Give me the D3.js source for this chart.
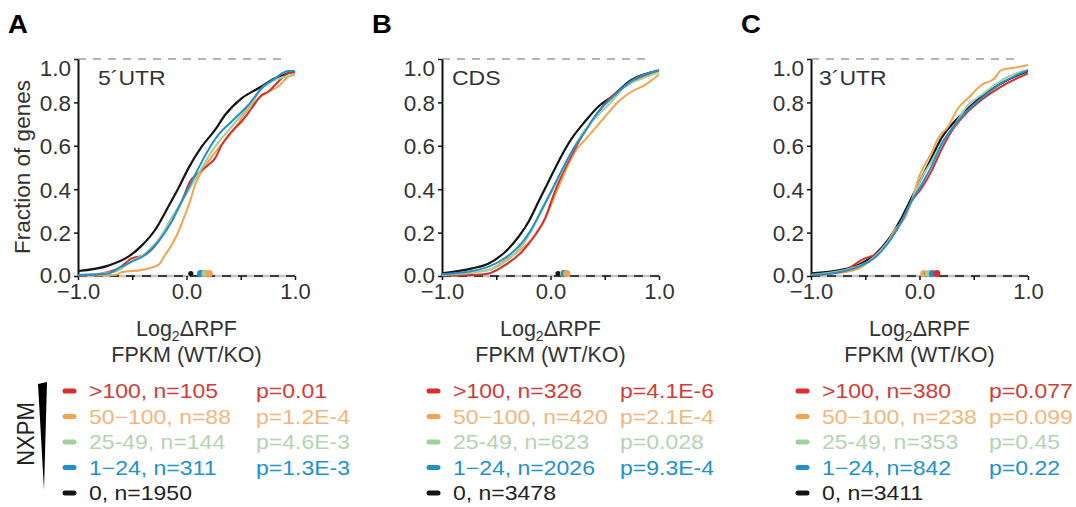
<!DOCTYPE html>
<html>
<head>
<meta charset="utf-8">
<script src="https://cdn.jsdelivr.net/npm/d3@7"></script>
<style>
body { margin: 0; background: #fff; }
text { font-family: "Liberation Sans", Arial, sans-serif; }
</style>
</head>
<body>
<svg id="chart" width="1076" height="507"></svg>
<script>
// ---------------------------------------------------------------
// Data (CDF of Log2 dRPF, per NXPM group)
// series order everywhere: >100, 50-100, 25-49, 1-24, 0
var panelLetters = ["A", "B", "C"];
var regions = ["5\u00B4UTR", "CDS", "3\u00B4UTR"];
var groups = [">100", "50\u2212100", "25-49", "1\u221224", "0"];
var yTicks = [0, 0.2, 0.4, 0.6, 0.8, 1.0];
var xTicks = [-1, -0.5, 0, 0.5, 1];
var xTickLabels = ["\u22121.0", "", "0.0", "", "1.0"];

var nA = [105, 88, 144, 311, 1950];
var nB = [326, 420, 623, 2026, 3478];
var nC = [380, 238, 353, 842, 3411];

var pA = ["p=0.01", "p=1.2E-4", "p=4.6E-3", "p=1.3E-3"];
var pB = ["p=4.1E-6", "p=2.1E-4", "p=0.028", "p=9.3E-4"];
var pC = ["p=0.077", "p=0.099", "p=0.45", "p=0.22"];

// medians (dots on the x axis)
var medA = [0.17, 0.21, 0.17, 0.13, 0.04];
var medB = [0.13, 0.15, 0.12, 0.13, 0.07];
var medC = [0.16, 0.04, 0.08, 0.12, 0.07];

// panel A - 5'UTR
var redA = [[-1,0.002],[-0.782,0.012],[-0.628,0.035],[-0.505,0.081],[-0.382,0.097],[-0.26,0.158],[-0.137,0.266],[-0.045,0.343],[0.032,0.435],[0.109,0.473],[0.201,0.512],[0.263,0.542],[0.324,0.604],[0.416,0.665],[0.508,0.712],[0.601,0.773],[0.693,0.834],[0.754,0.849],[0.816,0.88],[0.939,0.934],[1,0.939]];
var orangeA = [[-1,0.002],[-0.659,0.005],[-0.598,0.017],[-0.413,0.028],[-0.26,0.051],[-0.198,0.097],[-0.137,0.143],[-0.075,0.204],[-0.014,0.281],[0.032,0.343],[0.078,0.419],[0.14,0.481],[0.201,0.527],[0.293,0.588],[0.386,0.642],[0.478,0.704],[0.539,0.75],[0.631,0.803],[0.754,0.849],[0.846,0.873],[0.939,0.919],[1,0.929]];
var greenA = [[-1,0.005],[-0.659,0.02],[-0.505,0.069],[-0.382,0.104],[-0.26,0.166],[-0.137,0.266],[-0.045,0.343],[0.048,0.419],[0.14,0.496],[0.232,0.573],[0.324,0.634],[0.416,0.688],[0.508,0.742],[0.601,0.796],[0.693,0.865],[0.816,0.903],[1,0.926]];
var blueA = [[-1,0.005],[-0.72,0.012],[-0.628,0.035],[-0.505,0.066],[-0.382,0.097],[-0.26,0.158],[-0.137,0.25],[-0.045,0.343],[0.048,0.435],[0.109,0.496],[0.201,0.581],[0.293,0.65],[0.416,0.712],[0.57,0.788],[0.693,0.865],[0.816,0.911],[0.939,0.945],[1,0.945]];
var blackA = [[-1,0.023],[-0.72,0.048],[-0.536,0.089],[-0.413,0.14],[-0.29,0.212],[-0.167,0.32],[-0.075,0.404],[0.017,0.496],[0.14,0.596],[0.263,0.673],[0.355,0.742],[0.508,0.819],[0.662,0.865],[0.816,0.911],[1,0.945]];

// panel B - CDS
var redB = [[-1,0.002],[-0.722,0.005],[-0.569,0.012],[-0.416,0.051],[-0.263,0.112],[-0.141,0.189],[-0.049,0.266],[0.028,0.373],[0.104,0.465],[0.196,0.558],[0.287,0.642],[0.41,0.734],[0.532,0.811],[0.685,0.873],[0.869,0.923],[1,0.945]];
var orangeB = [[-1,0.005],[-0.569,0.028],[-0.416,0.074],[-0.263,0.127],[-0.141,0.189],[-0.049,0.266],[0.043,0.373],[0.135,0.481],[0.226,0.573],[0.318,0.627],[0.41,0.68],[0.502,0.734],[0.624,0.803],[0.746,0.849],[0.869,0.88],[1,0.929]];
var greenB = [[-1,0.005],[-0.569,0.028],[-0.416,0.066],[-0.294,0.12],[-0.171,0.212],[-0.08,0.312],[0.012,0.389],[0.104,0.481],[0.196,0.573],[0.318,0.673],[0.44,0.742],[0.563,0.803],[0.685,0.873],[0.807,0.903],[1,0.939]];
var blueB = [[-1,0.008],[-0.722,0.023],[-0.569,0.043],[-0.416,0.084],[-0.294,0.135],[-0.171,0.22],[-0.08,0.304],[0.012,0.396],[0.104,0.488],[0.196,0.573],[0.318,0.665],[0.44,0.757],[0.563,0.819],[0.746,0.899],[1,0.949]];
var blackB = [[-1,0.012],[-0.722,0.035],[-0.569,0.058],[-0.416,0.112],[-0.294,0.181],[-0.202,0.25],[-0.11,0.343],[-0.018,0.435],[0.073,0.527],[0.196,0.634],[0.318,0.712],[0.44,0.78],[0.563,0.826],[0.746,0.903],[1,0.945]];

// panel C - 3'UTR
var redC = [[-1,0.005],[-0.72,0.02],[-0.505,0.081],[-0.413,0.097],[-0.29,0.158],[-0.167,0.25],[-0.075,0.343],[0.017,0.404],[0.109,0.481],[0.201,0.581],[0.293,0.665],[0.416,0.742],[0.57,0.811],[0.754,0.873],[1,0.934]];
var orangeC = [[-1,0.005],[-0.628,0.023],[-0.413,0.089],[-0.29,0.158],[-0.229,0.212],[-0.137,0.266],[-0.075,0.343],[0.002,0.465],[0.048,0.512],[0.109,0.565],[0.171,0.634],[0.263,0.688],[0.355,0.773],[0.447,0.819],[0.57,0.88],[0.693,0.911],[0.754,0.949],[0.877,0.96],[1,0.972]];
var greenC = [[-1,0.005],[-0.536,0.051],[-0.413,0.089],[-0.29,0.158],[-0.167,0.25],[-0.075,0.343],[0.017,0.45],[0.109,0.527],[0.201,0.611],[0.324,0.696],[0.447,0.788],[0.57,0.834],[0.693,0.88],[0.816,0.919],[1,0.949]];
var blueC = [[-1,0.005],[-0.72,0.02],[-0.536,0.048],[-0.413,0.084],[-0.29,0.151],[-0.167,0.25],[-0.075,0.343],[0.017,0.419],[0.109,0.504],[0.201,0.604],[0.324,0.696],[0.447,0.765],[0.57,0.819],[0.754,0.888],[1,0.949]];
var blackC = [[-1,0.012],[-0.72,0.028],[-0.536,0.058],[-0.413,0.097],[-0.29,0.166],[-0.167,0.266],[-0.075,0.358],[0.017,0.45],[0.109,0.542],[0.201,0.634],[0.324,0.712],[0.447,0.773],[0.57,0.826],[0.754,0.888],[1,0.945]];

var curvesA = [redA, orangeA, greenA, blueA, blackA];
var curvesB = [redB, orangeB, greenB, blueB, blackB];
var curvesC = [redC, orangeC, greenC, blueC, blackC];

// ---------------------------------------------------------------
var lineColors = ["#d92e2a", "#f6a24e", "#9fd199", "#2290d0", "#141414"];
var textColors = ["#d43c37", "#f5b57b", "#b4d4b1", "#1a93d0", "#222222"];
var drawOrder = [4, 1, 0, 2, 3];

var plotLeft = [78, 442, 811];
var labelOffset = [20, 10, 8];
var plotW = 217, plotTop = 59, plotBottom = 276;
var stretch = 1.15;

var svg = d3.select("#chart");

function stretchedText(parent, x, y, str, size, color)
{
    return parent.append("text")
        .attr("transform", "translate(" + x + "," + y + ") scale(" + stretch + ",1)")
        .style("font-size", size + "px")
        .attr("fill", color)
        .text(str);
}

var allCurves = [curvesA, curvesB, curvesC];
var allN = [nA, nB, nC];
var allP = [pA, pB, pC];
var allMed = [medA, medB, medC];

for (var i = 0; i < 3; i++)
{
    var left = plotLeft[i];
    var x = d3.scaleLinear().domain([-1, 1]).range([left, left + plotW]);
    var y = d3.scaleLinear().domain([0, 1]).range([plotBottom, plotTop]);
    var g = svg.append("g");

    // panel letter
    g.append("text")
        .attr("transform", "translate(" + (left - 70) + ",33) scale(1.1,1)")
        .style("font-size", "25px")
        .style("font-weight", "bold")
        .attr("fill", "#000")
        .text(panelLetters[i]);

    // dashed line at 1.0
    g.append("line")
        .attr("x1", x(-1)).attr("x2", x(1) - 8)
        .attr("y1", y(1)).attr("y2", y(1))
        .attr("stroke", "#b5b5b5").attr("stroke-width", 2)
        .attr("stroke-dasharray", "8,7");

    // x axis: grey line with black dashes
    g.append("line")
        .attr("x1", x(-1)).attr("x2", x(1))
        .attr("y1", y(0)).attr("y2", y(0))
        .attr("stroke", "#c4c4c4").attr("stroke-width", 2.5);
    g.append("line")
        .attr("x1", x(-1)).attr("x2", x(1))
        .attr("y1", y(0)).attr("y2", y(0))
        .attr("stroke", "#111").attr("stroke-width", 1.6)
        .attr("stroke-dasharray", "9,7");

    var xAxis = g.append("g")
        .attr("transform", "translate(0," + plotBottom + ")")
        .call(d3.axisBottom(x).tickValues(xTicks).tickSize(4).tickPadding(3)
            .tickFormat(function(d, k) { return xTickLabels[k]; }));
    xAxis.select(".domain").remove();
    xAxis.selectAll("line").attr("stroke", "#111").attr("stroke-width", 1.5);
    xAxis.selectAll("text").style("font-size", "22px").attr("fill", "#333")
        .style("font-family", "'Liberation Sans', Arial, sans-serif");

    var yAxis = g.append("g")
        .attr("transform", "translate(" + left + ",0)")
        .call(d3.axisLeft(y).tickValues(yTicks).tickSize(4).tickSizeOuter(0).tickPadding(3)
            .tickFormat(d3.format(".1f")));
    yAxis.select(".domain").attr("stroke", "#111").attr("stroke-width", 2);
    yAxis.selectAll("line").attr("stroke", "#111").attr("stroke-width", 1.5);
    yAxis.selectAll("text").style("font-size", "22.5px").attr("fill", "#333")
        .style("font-family", "'Liberation Sans', Arial, sans-serif")
        .attr("dy", function(d) { return d === 1 ? "0.75em" : (d === 0 ? "0.28em" : "0.36em"); });

    // curves
    var line = d3.line()
        .x(function(d) { return x(d[0]); })
        .y(function(d) { return y(d[1]); })
        .curve(d3.curveMonotoneX);
    for (var k = 0; k < drawOrder.length; k++)
    {
        var s = drawOrder[k];
        g.append("path")
            .attr("d", line(allCurves[i][s]))
            .attr("fill", "none")
            .attr("stroke", lineColors[s])
            .attr("stroke-width", s === 4 ? 2.2 : 2);
    }

    // medians
    var med = allMed[i].map(function(v, s) { return {v: v, s: s}; })
        .sort(function(a, b) { return a.v - b.v; });
    g.selectAll("circle.med")
        .data(med)
        .enter().append("circle")
        .attr("cx", function(d) { return x(d.v); })
        .attr("cy", y(0) - 2.5)
        .attr("r", function(d) { return d.s === 4 ? 2.6 : 3.6; })
        .attr("fill", function(d) { return lineColors[d.s]; });

    // region label
    stretchedText(g, left + labelOffset[i], 85, regions[i], 20, "#333");

    // x axis title
    var t1 = g.append("text")
        .attr("x", x(0)).attr("y", 336)
        .attr("text-anchor", "middle")
        .style("font-size", "21.5px").attr("fill", "#333");
    t1.append("tspan").text("Log");
    t1.append("tspan").text("2").style("font-size", "14px").attr("dy", 5);
    t1.append("tspan").text("\u0394RPF").attr("dy", -5);
    g.append("text")
        .attr("x", x(0)).attr("y", 362)
        .attr("text-anchor", "middle")
        .style("font-size", "21.5px").attr("fill", "#333")
        .text("FPKM (WT/KO)");

    // legend
    for (var r = 0; r < groups.length; r++)
    {
        var by = 398 + r * 25.5;
        g.append("line")
            .attr("x1", left - 13).attr("x2", left - 4)
            .attr("y1", by - 7).attr("y2", by - 7)
            .attr("stroke", lineColors[r]).attr("stroke-width", 5)
            .attr("stroke-linecap", "round");
        stretchedText(g, left + 11, by, groups[r] + ", n=" + allN[i][r], 20, textColors[r]);
        if (r < allP[i].length)
            stretchedText(g, left + 178, by, allP[i][r], 20, textColors[r]);
    }
}

// y axis title (panel A only)
svg.append("text")
    .attr("transform", "translate(30,167) rotate(-90)")
    .attr("text-anchor", "middle")
    .style("font-size", "22.5px").attr("fill", "#333")
    .text("Fraction of genes");

// NXPM wedge
svg.append("text")
    .attr("transform", "translate(34,434) rotate(-90) scale(1,1.12)")
    .attr("text-anchor", "middle")
    .style("font-size", "22px").attr("fill", "#222")
    .text("NXPM");
svg.append("path")
    .attr("d", d3.line()([[38, 384], [47, 382], [44, 490]]) + "Z")
    .attr("fill", "#000");
</script>
</body>
</html>
